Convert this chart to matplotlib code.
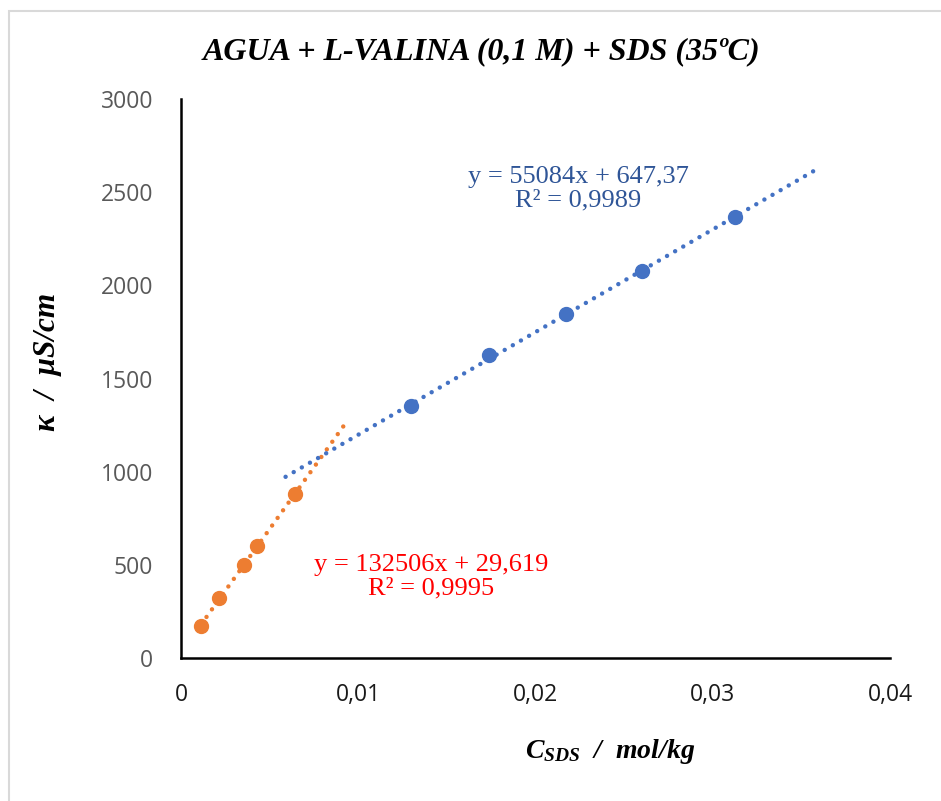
import numpy as np
import matplotlib
matplotlib.use("Agg")
import matplotlib.pyplot as plt
from matplotlib.patches import Rectangle

# datos
x_pre = [0.00113, 0.00214, 0.00355, 0.00429, 0.00643]
k_pre = [172, 322, 499, 601, 880]
x_post = [0.01298, 0.01738, 0.02172, 0.02601, 0.03126]
k_post = [1352, 1626, 1846, 2077, 2367]

# rectas de ajuste (pendiente, ordenada) y rango dibujado
fit_pre = (132506, 29.619)
fit_post = (55084, 647.37)
rng_pre = (0.00113, 0.0093)
rng_post = (0.0059, 0.0359)

x_ticks = [0, 0.01, 0.02, 0.03, 0.04]
x_ticklabels = ["0", "0,01", "0,02", "0,03", "0,04"]
y_ticks = [0, 500, 1000, 1500, 2000, 2500, 3000]

orange = "#ED7D31"
blue = "#4472C4"

plt.rcParams["mathtext.fontset"] = "custom"
plt.rcParams["mathtext.it"] = "Liberation Serif:italic:bold"
plt.rcParams["mathtext.rm"] = "Liberation Serif:italic:bold"

W, H = 941, 801
fig = plt.figure(figsize=(W / 100, H / 100), dpi=100)
ax = fig.add_axes([181 / W, 1 - 658 / H, (890 - 181) / W, (658 - 99) / H])

# borde del grafico
fig.patches.append(Rectangle((9 / W, -0.1), 1.2, 1 - 11 / H + 0.1, transform=fig.transFigure,
                             fill=False, edgecolor="#d9d9d9", lw=1.5))

for (m, b), (x0, x1), c in [(fit_pre, rng_pre, orange), (fit_post, rng_post, blue)]:
    xs = np.array([x0, x1])
    ax.plot(xs, m * xs + b, color=c, lw=3.2, linestyle=(0, (0.01, 2.1)),
            dash_capstyle="round", zorder=2)

ax.plot(x_pre, k_pre, "o", color=orange, ms=10, zorder=3)
ax.plot(x_post, k_post, "o", color=blue, ms=10, zorder=3)

ax.set_xlim(0, 0.04)
ax.set_ylim(0, 3000)
ax.set_xticks(x_ticks)
ax.set_xticklabels(x_ticklabels)
ax.set_yticks(y_ticks)
ax.tick_params(length=0)
ax.tick_params(axis="y", pad=20, labelsize=16.5, labelcolor="#595959")
ax.tick_params(axis="x", pad=18, labelsize=16.5, labelcolor="#1a1a1a")
for lab in ax.get_xticklabels() + ax.get_yticklabels():
    lab.set_fontfamily("Open Sans")
for s in ["top", "right"]:
    ax.spines[s].set_visible(False)
ax.spines["left"].set_linewidth(1.8)
ax.spines["bottom"].set_linewidth(1.8)

fig.text(481 / W, 1 - 52 / H, "AGUA + L-VALINA (0,1 M) + SDS (35ºC)", ha="center", va="center",
         family="Liberation Serif", weight="bold", style="italic", fontsize=23)
fig.text(47 / W, 1 - 362 / H, "κ  /  μS/cm", ha="center", va="center", rotation=90,
         family="Liberation Serif", weight="bold", style="italic", fontsize=22.5)
fig.text(610 / W, 1 - 752 / H, r"$C_{SDS}$  /  mol/kg", ha="center", va="center",
         family="Liberation Serif", weight="bold", style="italic", fontsize=20)

ax.text(0.0224, 2517, "y = 55084x + 647,37\nR² = 0,9989", ha="center", va="center",
        family="Liberation Serif", fontsize=19, color="#2F5597", linespacing=1.1)
ax.text(0.0141, 435, "y = 132506x + 29,619\nR² = 0,9995", ha="center", va="center",
        family="Liberation Serif", fontsize=19, color="#FF0000", linespacing=1.1)

fig.savefig("out.png", dpi=100)
